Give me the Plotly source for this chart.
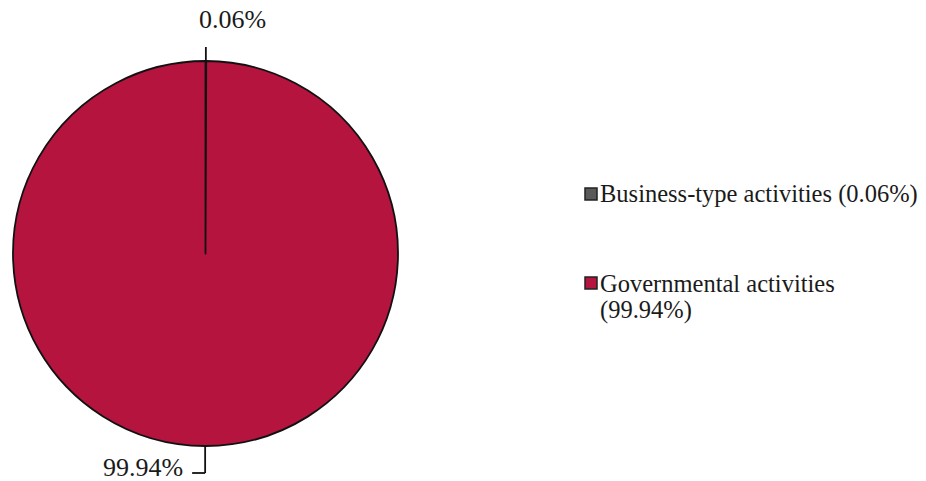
import math
import plotly.graph_objects as go

# Net position share by activity type
categories = ["Business-type activities", "Governmental activities"]
shares = [0.06, 99.94]
slice_colors = ["#5a5a5a", "#b5143f"]
value_labels = ["0.06%", "99.94%"]
legend_labels = ["Business-type activities (0.06%)", "Governmental activities<br>(99.94%)"]

W, H = 926, 481
FONT = "Times New Roman, Liberation Serif, serif"
TEXT_COLOR = "#1a1a1a"

# pie placement in pixels
cx, cy, R = 205.5, 253.5, 192.5


def px(x):
    return x / W


def py(y):
    return 1 - y / H


fig = go.Figure(
    go.Pie(
        labels=categories,
        values=shares,
        sort=False,
        direction="clockwise",
        rotation=0,
        textinfo="none",
        hoverinfo="label+percent",
        marker=dict(colors=slice_colors, line=dict(color="#111111", width=1.8)),
        domain=dict(x=[px(cx - R), px(cx + R)], y=[py(cy + R), py(cy - R)]),
        showlegend=False,
    )
)

# mid-angle of each slice (degrees clockwise from 12 o'clock)
total = sum(shares)
mids = []
acc = 0.0
for v in shares:
    mids.append((acc + v / 2) / total * 360)
    acc += v

shapes = []
annotations = []
line_style = dict(color="#111111", width=1.8)


def text(x, y, s, size, xanchor="center"):
    annotations.append(dict(x=px(x), y=py(y), xref="paper", yref="paper",
                            xanchor=xanchor, yanchor="middle", align="left",
                            text=s, showarrow=False,
                            font=dict(family=FONT, size=size, color=TEXT_COLOR)))


# leader + label for the small slice (above the pie)
a = math.radians(mids[0])
x0, y0 = cx + R * math.sin(a), cy - R * math.cos(a)
y1 = cy - (R + 14)
shapes.append(dict(type="line", xref="paper", yref="paper",
                   x0=px(x0), y0=py(y0), x1=px(x0), y1=py(y1), line=line_style))
text(x0 + 27, y1 - 28, value_labels[0], 26)

# leader + label for the large slice (below the pie)
a = math.radians(mids[1])
x0, y0 = cx + R * math.sin(a), cy - R * math.cos(a)
y1 = cy + R + 27
shapes.append(dict(type="line", xref="paper", yref="paper",
                   x0=px(x0), y0=py(y0), x1=px(x0), y1=py(y1), line=line_style))
shapes.append(dict(type="line", xref="paper", yref="paper",
                   x0=px(x0), y0=py(y1), x1=px(x0 - 13), y1=py(y1), line=line_style))
text(x0 - 20, y1 - 6, value_labels[1], 26, xanchor="right")

# legend: swatch + text lines for each category
legend_rows = [194, 283]
line_gap = 27
for label, color, yc in zip(legend_labels, slice_colors, legend_rows):
    shapes.append(dict(type="rect", xref="paper", yref="paper",
                       x0=px(585), x1=px(597), y0=py(yc - 6), y1=py(yc + 6),
                       fillcolor=color, line=dict(color="#222222", width=1.5)))
    for i, part in enumerate(label.split("<br>")):
        text(598, yc + i * line_gap, part, 24.5, xanchor="left")

fig.update_layout(
    width=W,
    height=H,
    margin=dict(l=0, r=0, t=0, b=0),
    paper_bgcolor="white",
    plot_bgcolor="white",
    shapes=shapes,
    annotations=annotations,
)

fig.write_html("out.html")
